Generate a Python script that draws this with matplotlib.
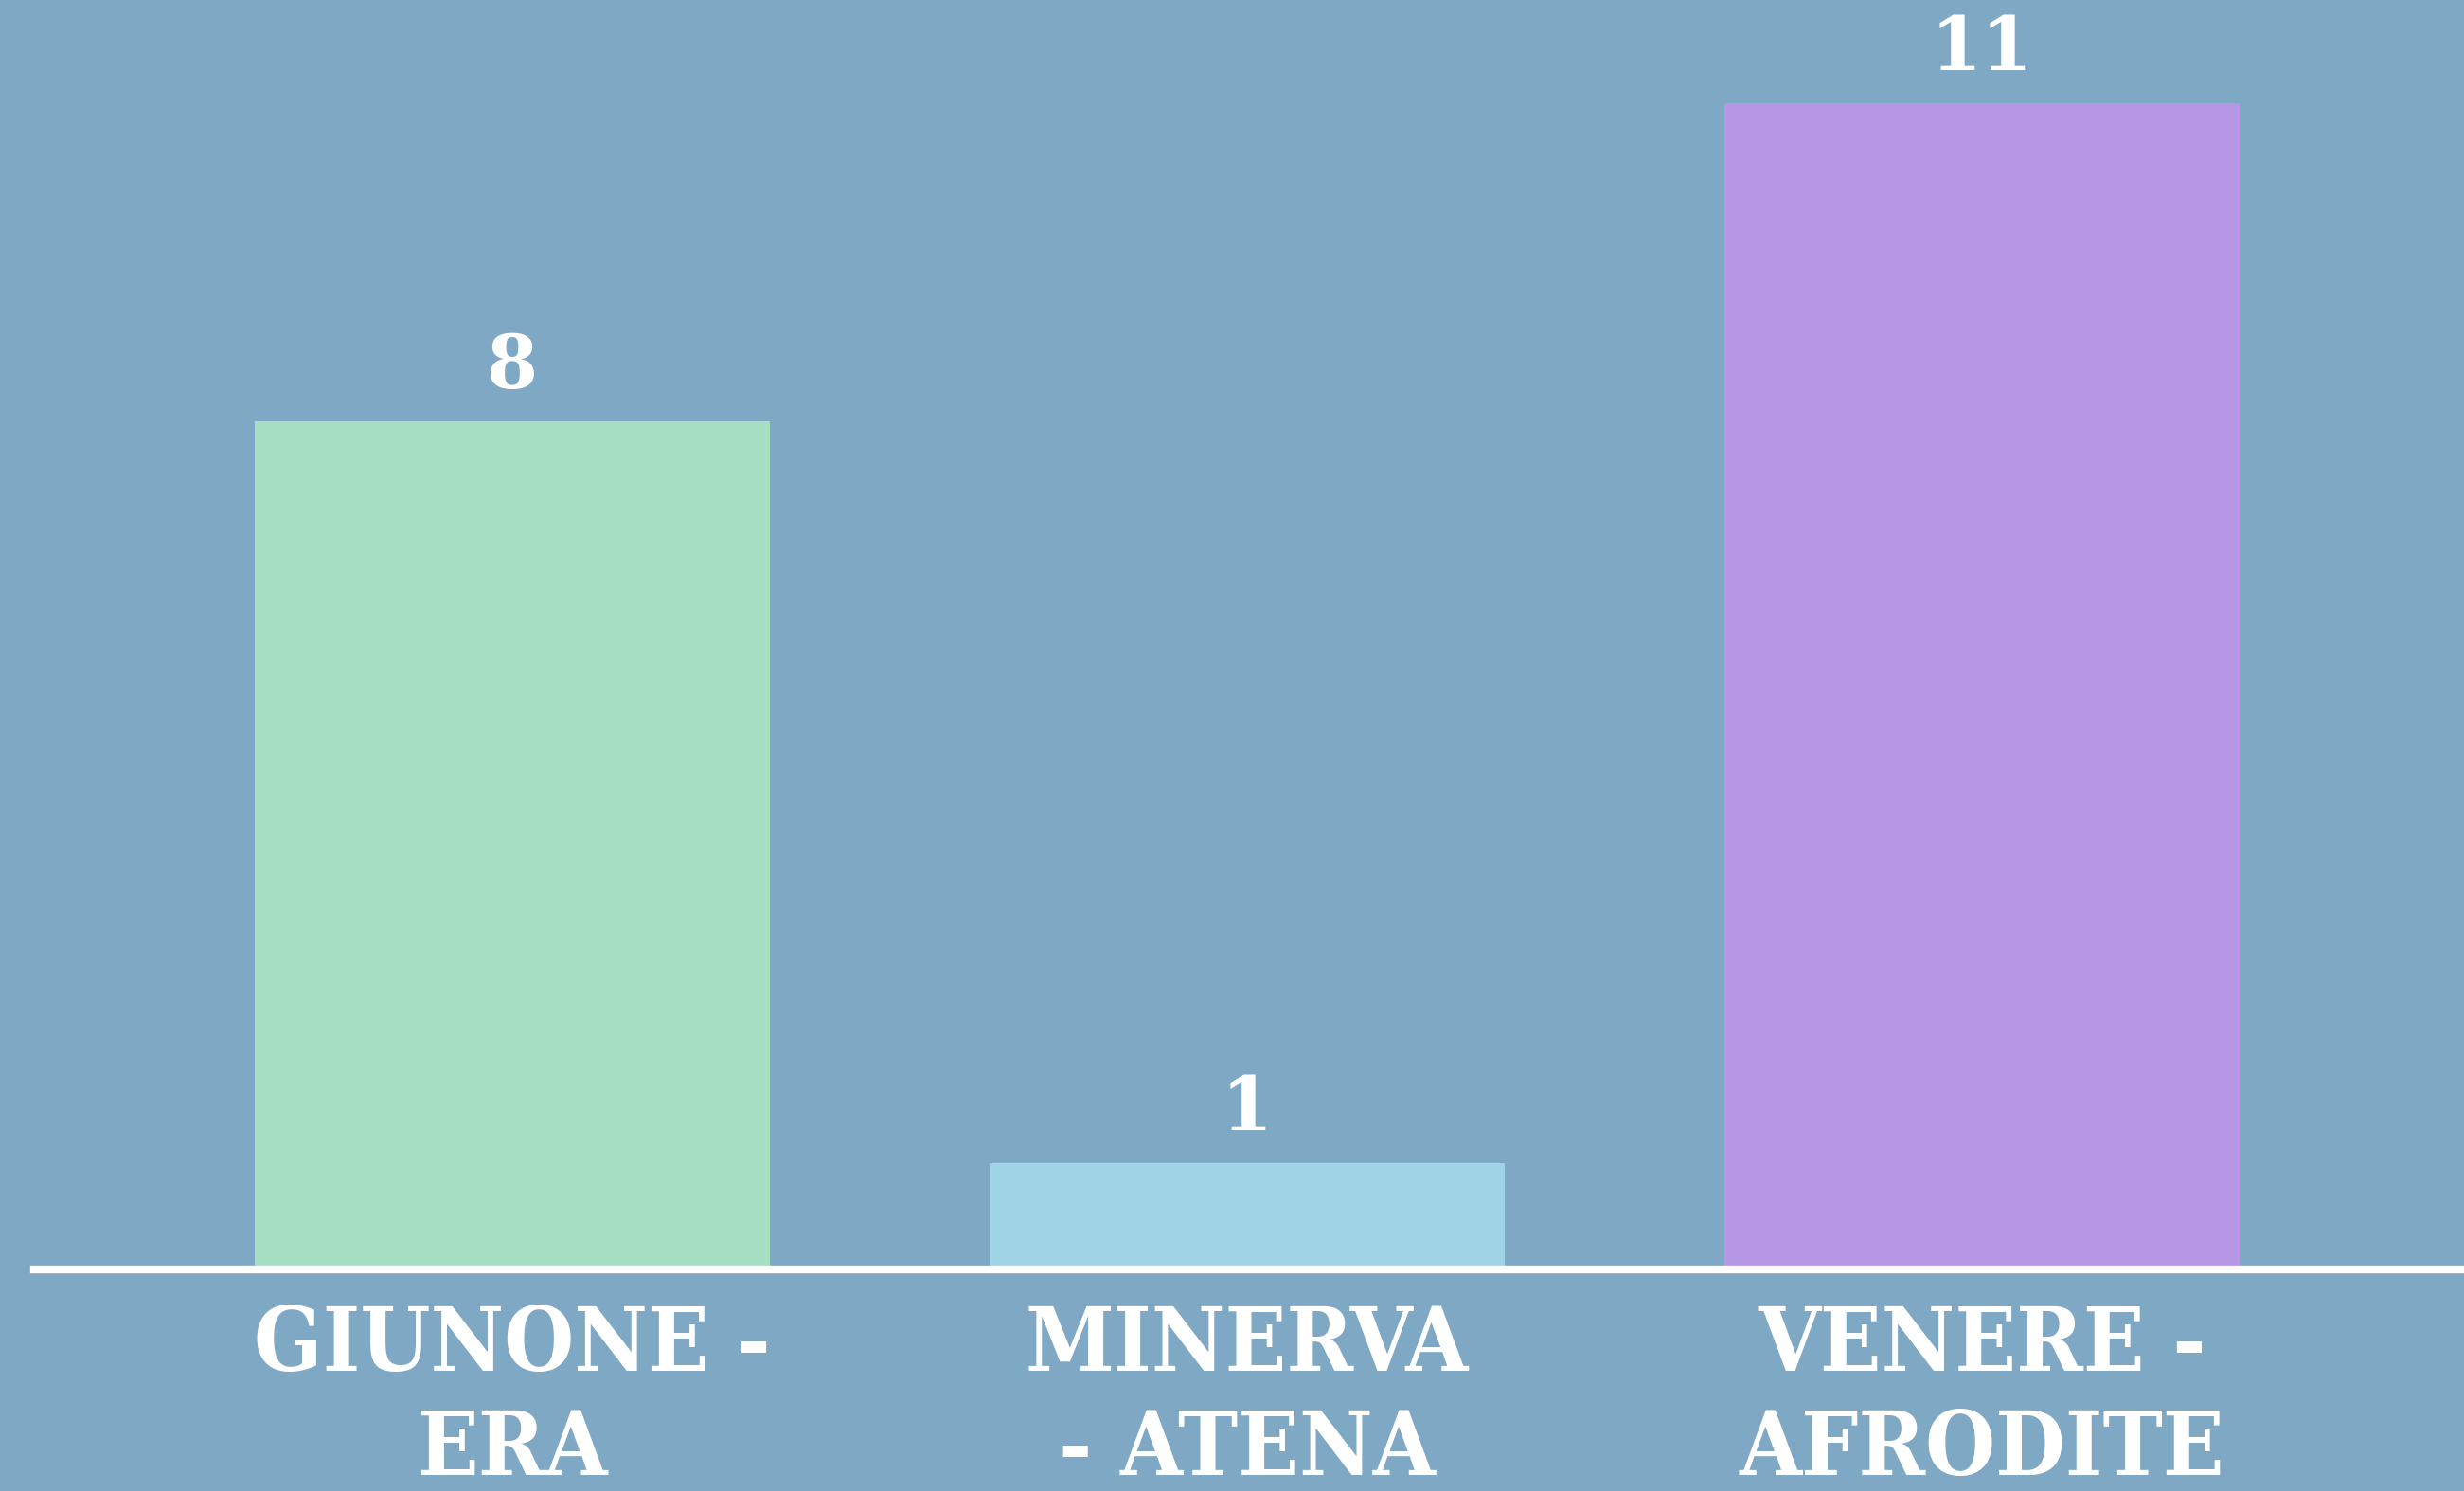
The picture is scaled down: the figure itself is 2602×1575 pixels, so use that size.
#!/usr/bin/python3
# -*- coding: utf-8 -*-

'''Bar chart: goddesses (Roman - Greek names) and their counts.'''

import matplotlib
matplotlib.use('Agg')
import matplotlib.pyplot as plt

# Data
categories = ['GIUNONE -\nERA', 'MINERVA\n- ATENA', 'VENERE -\nAFRODITE']
values = [8, 1, 11]
bar_colors = ['#a6dec4', '#a0d3e6', '#b697e5']

# Style
bg = '#7fa8c4'
label_font = ['DejaVu Serif', 'DejaVu Sans']

fig = plt.figure(figsize=(26.02, 15.75), dpi=100, facecolor=bg)
# axes area sits above the white baseline
ax = fig.add_axes([0, 234 / 1575, 1, 1 - 234 / 1575])
ax.set_facecolor(bg)

x = list(range(len(categories)))
bars = ax.bar(x, values, width=0.70, color=bar_colors, zorder=2)

# limits chosen so the bars land where they are in the picture
ax.set_xlim(-541 / 776, (2602 - 541) / 776)
ax.set_ylim(0, 1341 / 112)

# white baseline
ax.axhline(0, xmin=36 / 2602, xmax=1, color='white', lw=6, zorder=3, clip_on=False)

# value labels above the bars
ax.bar_label(bars, labels=[str(v) for v in values], padding=14, color='white',
             fontsize=56, fontweight='bold', family=label_font)

# category labels under the baseline
ax.set_xticks(x)
ax.set_xticklabels(categories, fontsize=68, fontweight='bold', color='white',
                   family=label_font, linespacing=1.28, stretch='condensed')
ax.tick_params(axis='x', length=0, pad=26)
ax.tick_params(axis='y', left=False, labelleft=False)

for s in ax.spines.values():
    s.set_visible(False)

fig.savefig('out.png', dpi=100, facecolor=bg)
